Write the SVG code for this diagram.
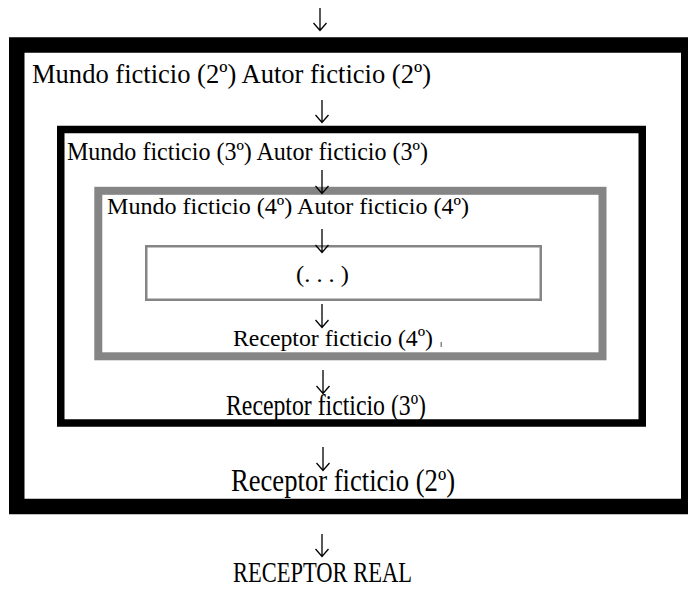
<svg xmlns="http://www.w3.org/2000/svg" width="688" height="590" viewBox="0 0 688 590">
  <style>
    text { font-family: 'Liberation Serif', 'Times New Roman', Times, serif; fill: #000; }
    .frame { fill: none; }
    .arrow { fill: none; stroke: #000; stroke-width: 1.3; stroke-linecap: butt; stroke-linejoin: miter; }
  </style>
  <rect x="0" y="0" width="688" height="590" fill="#fff"/>

  <g id="box-2">
    <rect class="frame" x="16.75" y="45" width="672" height="461.5" stroke="#000" stroke-width="15.5"/>
    <text x="32" y="83" font-family="'Liberation Serif', serif" font-size="28" textLength="399" lengthAdjust="spacingAndGlyphs">Mundo ficticio (2º) Autor ficticio (2º)</text>
    <text x="231" y="491" font-family="'Liberation Serif', serif" font-size="31" textLength="224" lengthAdjust="spacingAndGlyphs">Receptor ficticio (2º)</text>
  </g>

  <g id="box-3">
    <rect class="frame" x="60.75" y="129.5" width="581.5" height="293.5" stroke="#000" stroke-width="7.5"/>
    <text x="67" y="160" font-family="'Liberation Serif', serif" font-size="25" textLength="361" lengthAdjust="spacingAndGlyphs">Mundo ficticio (3º) Autor ficticio (3º)</text>
    <text x="226" y="415" font-family="'Liberation Serif', serif" font-size="30" textLength="200" lengthAdjust="spacingAndGlyphs">Receptor ficticio (3º)</text>
  </g>

  <g id="box-4">
    <rect class="frame" x="98.3" y="190.8" width="504.2" height="165.5" stroke="#858585" stroke-width="8"/>
    <text x="107" y="214" font-family="'Liberation Serif', serif" font-size="23" textLength="362" lengthAdjust="spacingAndGlyphs">Mundo ficticio (4º) Autor ficticio (4º)</text>
    <text x="233" y="346" font-family="'Liberation Serif', serif" font-size="24" textLength="200" lengthAdjust="spacingAndGlyphs">Receptor ficticio (4º)</text>
    <rect x="440.5" y="342" width="1.5" height="5" fill="#888"/>
  </g>

  <g id="box-inner">
    <rect class="frame" x="146.25" y="246.25" width="394.5" height="53.5" stroke="#858585" stroke-width="2.5"/>
    <text x="296" y="282" font-family="'Liberation Serif', serif" font-size="24" textLength="53" lengthAdjust="spacingAndGlyphs">(. . . )</text>
  </g>

  <g id="receptor-real">
    <text x="233" y="582" font-family="'Liberation Serif', serif" font-size="29" textLength="179" lengthAdjust="spacingAndGlyphs">RECEPTOR REAL</text>
  </g>

  <g id="connectors">
    <path class="arrow" d="M320 8V30M313.5 23L320 30.5L326.5 23"/>
    <path class="arrow" d="M322 100V122M315.5 115L322 122.5L328.5 115"/>
    <path class="arrow" d="M322 170V193M315.5 186L322 193.5L328.5 186"/>
    <path class="arrow" d="M322 229V252M315.5 245L322 252.5L328.5 245"/>
    <path class="arrow" d="M322 304V327M315.5 320L322 327.5L328.5 320"/>
    <path class="arrow" d="M323 370V393M316.5 386L323 393.5L329.5 386"/>
    <path class="arrow" d="M323 447V470M316.5 463L323 470.5L329.5 463"/>
    <path class="arrow" d="M322 534V556M315.5 549L322 556.5L328.5 549"/>
  </g>
</svg>
